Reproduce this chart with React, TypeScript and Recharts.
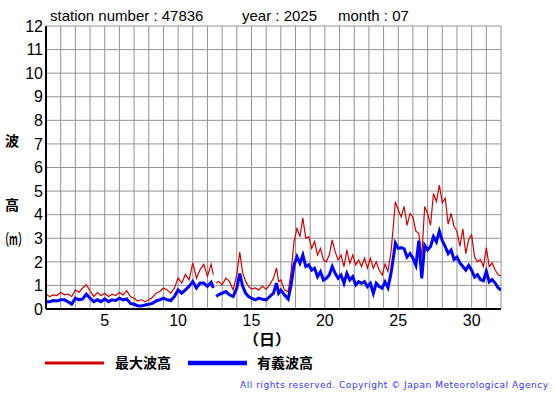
import React from 'react';
import { CartesianGrid, Line, LineChart, XAxis, YAxis } from 'recharts';

// time in days of the month (hourly record)
const days = [
  1.0, 1.25, 1.5, 1.75, 2.0, 2.25, 2.5, 2.75, 3.0, 3.25, 3.5, 3.75, 4.0, 4.25, 4.5, 4.75,
  5.0, 5.25, 5.5, 5.75, 6.0, 6.25, 6.5, 6.75, 7.0, 7.25, 7.5, 7.75, 8.0, 8.25, 8.5, 8.75,
  9.0, 9.25, 9.5, 9.75, 10.0, 10.25, 10.5, 10.75, 11.0, 11.25, 11.5, 11.75, 12.0, 12.25, 12.4,
  12.5, 12.6, 12.75, 13.0, 13.25, 13.5, 13.75, 14.0, 14.2, 14.4, 14.6, 14.8,
  15.0, 15.25, 15.5, 15.75, 16.0, 16.25, 16.5, 16.7, 16.85, 17.0, 17.25, 17.5, 17.7, 17.9,
  18.1, 18.3, 18.5, 18.7, 18.9, 19.1, 19.3, 19.5, 19.7, 19.9, 20.1, 20.3, 20.5, 20.7, 20.9,
  21.1, 21.3, 21.5, 21.7, 21.9, 22.1, 22.3, 22.5, 22.7, 22.9, 23.1, 23.3, 23.5, 23.7, 23.9,
  24.1, 24.3, 24.5, 24.65, 24.8, 25.0, 25.2, 25.4, 25.6, 25.8, 26.0, 26.2, 26.4, 26.6, 26.8,
  27.0, 27.2, 27.4, 27.6, 27.8, 28.0, 28.2, 28.4, 28.6, 28.8, 29.0, 29.2, 29.4, 29.6, 29.8,
  30.0, 30.2, 30.4, 30.6, 30.8, 31.0, 31.2, 31.4, 31.6, 31.8, 32.0,
];

// 最大波高 (m)
const maxWave = [
  0.63, 0.53, 0.6, 0.57, 0.71, 0.6, 0.63, 0.53, 0.81, 0.71, 0.89, 1.03, 0.77, 0.53, 0.7, 0.57,
  0.67, 0.53, 0.63, 0.57, 0.7, 0.6, 0.77, 0.53, 0.46, 0.34, 0.39, 0.31, 0.39, 0.49, 0.67, 0.74,
  0.89, 0.81, 0.67, 0.89, 1.31, 1.1, 1.46, 1.24, 1.96, 1.31, 1.67, 1.89, 1.39, 1.89, 1.46,
  null, 1.1, 1.17, 1.03, 1.31, 1.17, 0.81, 1.46, 2.41, 1.53, 1.17, 0.96,
  0.84, 0.89, 0.81, 0.96, 0.84, 1.03, 1.31, 1.74, 1.17, 1.23, 0.8, 0.74, 1.58, 2.86,
  3.42, 3.07, 3.85, 3.0, 3.07, 2.57, 2.86, 2.29, 2.57, 2.08, 2.0, 2.29, 2.93, 2.43, 2.08,
  2.29, 1.8, 2.5, 1.94, 2.29, 1.87, 2.08, 1.8, 2.15, 1.73, 2.15, 1.73, 2.0, 1.65, 1.44,
  1.9, 1.6, 2.4, 3.4, 4.55, 4.2, 3.9, 4.35, 3.55, 4.05, 3.9, 3.3, 3.2, 2.2, 4.35,
  4.05, 3.55, 4.9, 4.55, 5.25, 4.5, 4.7, 3.6, 4.05, 3.5, 3.3, 2.65, 3.4, 2.35, 2.95,
  3.15, 2.2, 2.0, 2.1, 1.8, 2.6, 1.8, 1.95, 1.65, 1.45, 1.4,
];

// 有義波高 (m)
const sigWave = [
  0.31, 0.31, 0.36, 0.34, 0.39, 0.39, 0.31, 0.21, 0.46, 0.39, 0.43, 0.63, 0.46, 0.31, 0.39, 0.31,
  0.43, 0.31, 0.39, 0.36, 0.46, 0.39, 0.43, 0.24, 0.2, 0.14, 0.13, 0.17, 0.2, 0.24, 0.34, 0.39,
  0.46, 0.39, 0.36, 0.53, 0.81, 0.67, 0.81, 0.96, 1.17, 0.89, 1.1, 1.1, 0.96, 1.13, 0.89,
  null, 0.53, 0.6, 0.67, 0.74, 0.6, 0.53, 0.89, 1.5, 0.96, 0.67, 0.53,
  0.46, 0.39, 0.46, 0.41, 0.39, 0.53, 0.67, 1.1, 0.67, 0.8, 0.59, 0.42, 1.02, 1.87,
  2.22, 1.94, 2.29, 1.8, 1.87, 1.65, 1.73, 1.37, 1.58, 1.23, 1.3, 1.44, 1.8, 1.51, 1.3,
  1.44, 1.09, 1.51, 1.23, 1.37, 1.02, 1.16, 1.09, 1.16, 0.95, 1.09, 0.66, 1.09, 0.95, 0.88,
  1.15, 0.9, 1.5, 2.1, 2.8, 2.57, 2.6, 2.55, 2.2, 2.35, 2.15, 1.85, 2.9, 1.3, 2.7,
  2.5, 2.65, 3.07, 2.85, 3.3, 2.9, 2.65, 2.35, 2.5, 2.1, 2.2, 1.95, 1.8, 1.65, 1.85,
  1.65, 1.35, 1.45, 1.25, 1.2, 1.6, 1.15, 1.25, 1.1, 0.9, 0.8,
];

const dayTicks = Array.from({ length: 32 }, (_, i) => i + 1);
const waveTicks = [0, 1, 2, 3, 4, 5, 6, 7, 8, 9, 10, 11, 12];

const data = days.map((d, i) => ({ day: d, max: maxWave[i], sig: sigWave[i] }));

const sans = '"Liberation Sans", Arial, sans-serif';
const cjk = '"Noto Sans CJK JP", sans-serif';

export default function App() {
  return (
    <div style={{ position: 'absolute', left: 0, top: 0, width: 555, height: 395, background: '#fff' }}>
      <LineChart width={555} height={395} data={data} margin={{ top: 26, right: 54, left: 0, bottom: 56 }}>
        <CartesianGrid stroke="#939393" strokeWidth={1} />
        <XAxis
          dataKey="day"
          type="number"
          domain={[1, 32]}
          ticks={dayTicks}
          interval={0}
          allowDataOverflow
          height={30}
          tickSize={0}
          tickMargin={6}
          tickFormatter={(v: number) => (v % 5 === 0 ? String(v) : '')}
          axisLine={{ stroke: '#000', strokeWidth: 2 }}
          tick={{ fill: '#000', fontSize: 16, fontFamily: sans }}
        />
        <XAxis
          xAxisId="top"
          orientation="top"
          type="number"
          domain={[1, 32]}
          height={0}
          tick={false}
          tickLine={false}
          axisLine={{ stroke: '#000', strokeWidth: 1 }}
        />
        <YAxis
          type="number"
          domain={[0, 12]}
          ticks={waveTicks}
          interval={0}
          width={46}
          tickSize={0}
          tickMargin={3}
          axisLine={{ stroke: '#000', strokeWidth: 2 }}
          tick={{ fill: '#000', fontSize: 16, fontFamily: sans }}
        />
        <YAxis
          yAxisId="right"
          orientation="right"
          type="number"
          domain={[0, 12]}
          width={0}
          tick={false}
          tickLine={false}
          axisLine={{ stroke: '#000', strokeWidth: 1.5 }}
        />
        <Line
          type="linear"
          dataKey="max"
          stroke="#d00000"
          strokeWidth={1.2}
          dot={false}
          isAnimationActive={false}
        />
        <Line
          type="linear"
          dataKey="sig"
          stroke="#0000ff"
          strokeWidth={3}
          dot={false}
          isAnimationActive={false}
        />
      </LineChart>

      <svg width={555} height={395} style={{ position: 'absolute', left: 0, top: 0, pointerEvents: 'none' }}>
        <g fontFamily={sans} fontSize={15} fill="#000">
          <text x={50} y={21}>station number : 47836</text>
          <text x={242} y={21}>year : 2025</text>
          <text x={338} y={21}>month : 07</text>
        </g>
        <g fontFamily={cjk} fontSize={14} fontWeight="bold" fill="#000">
          <text x={12} y={146} textAnchor="middle">波</text>
          <text x={12} y={210} textAnchor="middle">高</text>
          <text x={0} y={245} fontSize={16} textLength={27} lengthAdjust="spacingAndGlyphs">（m）</text>
          <text x={243} y={345} fontSize={15} textLength={48} lengthAdjust="spacingAndGlyphs">（日）</text>
          <text x={115} y={368}>最大波高</text>
          <text x={257} y={368}>有義波高</text>
        </g>
        <line x1={45} x2={104} y1={363} y2={363} stroke="#d00000" strokeWidth={3} />
        <line x1={188} x2={247} y1={363} y2={363} stroke="#0000ff" strokeWidth={4.5} />
        <text
          x={240}
          y={388}
          fontFamily='"DejaVu Sans", Verdana, sans-serif'
          fontSize={9}
          fill="#3333ff"
          textLength={308}
          lengthAdjust="spacing"
        >
          All rights reserved. Copyright © Japan Meteorological Agency
        </text>
      </svg>
    </div>
  );
}
